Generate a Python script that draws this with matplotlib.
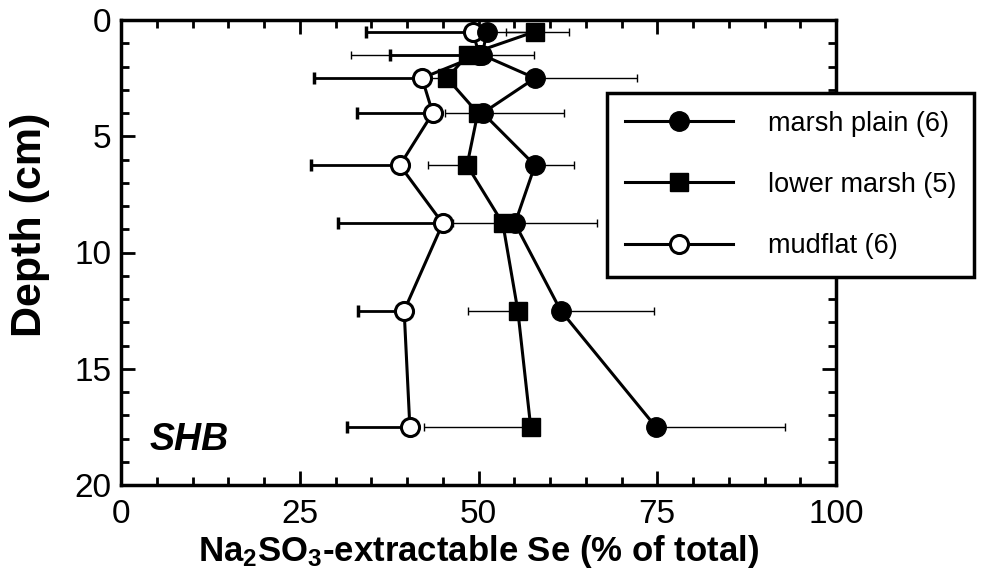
import matplotlib
matplotlib.use("Agg")
import matplotlib.pyplot as plt
from matplotlib.lines import Line2D
from matplotlib.ticker import MultipleLocator

plt.rcParams['font.family'] = ['Liberation Sans', 'DejaVu Sans']
plt.rcParams['mathtext.fontset'] = 'custom'
plt.rcParams['mathtext.rm'] = 'Liberation Sans:bold'
plt.rcParams['mathtext.bf'] = 'Liberation Sans:bold'
plt.rcParams['mathtext.default'] = 'bf'

# Data
depth = [0.5, 1.5, 2.5, 4.0, 6.25, 8.75, 12.5, 17.5]

marsh_plain = [51.2, 50.5, 57.9, 50.6, 57.9, 55.1, 61.5, 74.8]
marsh_plain_err_right = [11.5, 7.3, 14.3, 11.3, 5.5, 11.5, 13.1, 18.0]

lower_marsh = [57.9, 48.5, 45.6, 49.9, 48.4, 53.4, 55.5, 57.3]
lower_marsh_err_left = [4.0, 16.3, 4.0, 4.6, 5.5, 7.0, 7.0, 14.9]

mudflat = [49.2, 50.1, 42.1, 43.6, 39.0, 45.0, 39.6, 40.4]
mudflat_err_left = [15.0, 12.5, 15.1, 10.6, 12.4, 14.7, 6.5, 8.8]

labels = ["marsh plain (6)", "lower marsh (5)", "mudflat (6)"]
xticks = [0, 25, 50, 75, 100]
yticks = [0, 5, 10, 15, 20]

fig = plt.figure(figsize=(9.84, 5.80), dpi=100)
ax = fig.add_axes([121/984, 1-485/580, (836-121)/984, (485-20)/580])

zeros = [0]*len(depth)

# mudflat (bottom layer)
ax.errorbar(mudflat, depth, xerr=[mudflat_err_left, zeros], fmt='none',
            ecolor='black', elinewidth=2.0, capsize=4, capthick=2.5, zorder=2)
ax.plot(mudflat, depth, '-o', color='black', lw=2.2, ms=13, mfc='white',
        mec='black', mew=2.2, zorder=3)

# marsh plain
ax.errorbar(marsh_plain, depth, xerr=[zeros, marsh_plain_err_right], fmt='none',
            ecolor='black', elinewidth=1.0, capsize=3, capthick=1.0, zorder=2)
ax.plot(marsh_plain, depth, '-o', color='black', lw=2.2, ms=14, mfc='black',
        mec='black', zorder=4)

# lower marsh
ax.errorbar(lower_marsh, depth, xerr=[lower_marsh_err_left, zeros], fmt='none',
            ecolor='black', elinewidth=1.0, capsize=3, capthick=1.0, zorder=2)
ax.plot(lower_marsh, depth, '-s', color='black', lw=2.2, ms=12.5, mfc='black',
        mec='black', zorder=5)

ax.set_xlim(0, 100)
ax.set_ylim(20, 0)
ax.set_xticks(xticks)
ax.set_yticks(yticks)
ax.xaxis.set_minor_locator(MultipleLocator(5))
ax.yaxis.set_minor_locator(MultipleLocator(1))
ax.tick_params(which='both', direction='in', top=True, right=True, width=2.0,
               color='black', labelsize=24)
ax.tick_params(which='major', length=10)
ax.tick_params(which='minor', length=6)
ax.tick_params(axis='x', which='major', pad=10)
ax.tick_params(axis='y', which='major', pad=7)
for s in ax.spines.values():
    s.set_linewidth(2.5)

ax.set_xlabel("Na$_2$SO$_3$-extractable Se (% of total)", fontsize=25,
              fontweight='bold', labelpad=2)
ax.set_ylabel("Depth (cm)", fontsize=31, fontweight='bold')
ax.yaxis.label.set_verticalalignment('center')
ax.yaxis.label.set_horizontalalignment('center')
ax.yaxis.set_label_coords((30-121)/715, (485-225)/465)

ax.text(4, 18.05, "SHB", fontsize=27, fontweight='bold', fontstyle='italic',
        ha='left', va='center')

handles = [
    Line2D([], [], color='black', lw=2.2, marker='o', ms=14, mfc='black', mec='black'),
    Line2D([], [], color='black', lw=2.2, marker='s', ms=12.5, mfc='black', mec='black'),
    Line2D([], [], color='black', lw=2.2, marker='o', ms=13, mfc='white', mec='black', mew=2.2),
]
leg = fig.legend(handles, labels, loc='upper left',
                 bbox_to_anchor=(607/984, 1-93/580), borderaxespad=0,
                 fontsize=19.5, frameon=True, fancybox=False, edgecolor='black',
                 framealpha=1, handlelength=4.0, handletextpad=1.3,
                 labelspacing=1.3, borderpad=0.65)
leg.get_frame().set_linewidth(2.5)

fig.savefig("out.png", dpi=100)
